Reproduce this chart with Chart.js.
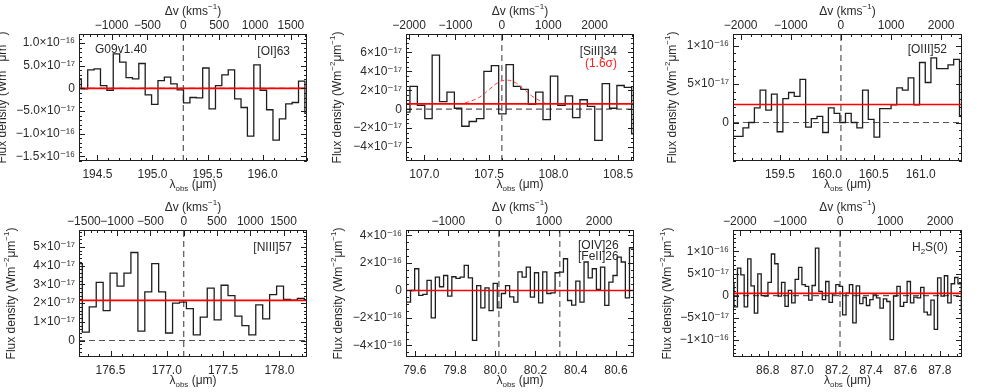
<!DOCTYPE html>
<html>
<head>
<meta charset="utf-8">
<script src="https://cdn.jsdelivr.net/npm/chart.js@4.4.1/dist/chart.umd.min.js"></script>
<style>
  body { margin: 0; background: #fff; }
  #wrap { position: relative; width: 981px; height: 392px; overflow: hidden; }
  #wrap canvas { position: absolute; }
</style>
</head>
<body>
<div id="wrap"></div>
<script>
// flux values are in units of 1e-17 W m^-2 um^-1, wavelengths are bin centres in um

// [OI]63
const oiWave = [194.325, 194.383, 194.441, 194.499, 194.557, 194.615, 194.673, 194.731, 194.789, 194.847,
  194.905, 194.963, 195.021, 195.079, 195.137, 195.195, 195.253, 195.311, 195.369, 195.427,
  195.485, 195.543, 195.601, 195.659, 195.717, 195.775, 195.833, 195.891, 195.949, 196.007,
  196.065, 196.123, 196.181, 196.239, 196.297, 196.355, 196.413];
const oiFlux = [2.1, -0.1, 4.1, 4.3, 0.6, -0.4, 7.6, 5.8, 2.4, 2.1,
  5.5, -1.4, -3.5, 1.7, 2.5, 1.0, -0.3, -3.2, -2.0, -2.1,
  4.5, -4.5, 0.6, 3.0, 4.1, -2.3, -4.2, -10.5, 5.2, -0.4,
  -4.7, -11.4, -6.7, -3.4, -3.1, 1.6, -5.5];
const oiCont = 0;
const oiXTicks = [194.5, 195.0, 195.5, 196.0];
const oiXLabels = ['194.5', '195.0', '195.5', '196.0'];
const oiVTicks = [-1000, -500, 0, 500, 1000, 1500];
const oiYTicks = [10, 5, 0, -5, -10, -15];
const oiYLabels = ['1.0×10⁻¹⁶', '5.0×10⁻¹⁷', '0', '−5.0×10⁻¹⁷', '−1.0×10⁻¹⁶', '−1.5×10⁻¹⁶'];

// [SiII]34
const siiWave = [106.860, 106.917, 106.975, 107.032, 107.089, 107.146, 107.204, 107.261, 107.318, 107.375,
  107.432, 107.490, 107.547, 107.604, 107.661, 107.718, 107.776, 107.833, 107.890, 107.947,
  108.004, 108.062, 108.119, 108.176, 108.233, 108.290, 108.348, 108.405, 108.462, 108.519,
  108.576, 108.634];
const siiFlux = [-0.3, 2.4, 0.4, -1.0, 5.7, 0.8, 1.8, 0.1, -1.8, -1.3,
  -1.0, 4.0, 4.6, -0.5, 4.7, 2.4, 2.1, 0.5, 1.8, -1.1,
  3.5, 0.4, 1.4, -0.9, 1.0, 0.3, -3.3, 2.7, 0.1, 2.5,
  2.3, -2.6];
const siiCont = 0.56;
const siiFitWave = [107.315, 107.379, 107.444, 107.508, 107.573, 107.637, 107.702, 107.766, 107.831, 107.895, 107.934];
const siiFitFlux = [0.67, 0.95, 1.41, 2.15, 2.82, 3.07, 2.82, 2.15, 1.41, 0.88, 0.63];
const siiXTicks = [107.0, 107.5, 108.0, 108.5];
const siiXLabels = ['107.0', '107.5', '108.0', '108.5'];
const siiVTicks = [-2000, -1000, 0, 1000, 2000];
const siiYTicks = [6, 4, 2, 0, -2, -4];
const siiYLabels = ['6×10⁻¹⁷', '4×10⁻¹⁷', '2×10⁻¹⁷', '0', '−2×10⁻¹⁷', '−4×10⁻¹⁷'];

// [OIII]52
const oiiiWave = [158.955, 159.016, 159.076, 159.137, 159.198, 159.258, 159.319, 159.380, 159.440, 159.501,
  159.562, 159.622, 159.683, 159.744, 159.804, 159.865, 159.926, 159.986, 160.047, 160.108,
  160.168, 160.229, 160.290, 160.350, 160.411, 160.472, 160.533, 160.593, 160.654, 160.715,
  160.775, 160.836, 160.897, 160.957, 161.018, 161.079, 161.139, 161.200, 161.261, 161.321,
  161.382, 161.445];
const oiiiFlux = [-1.8, -1.8, -1.8, -0.7, 0.0, 1.9, 4.2, 1.6, 3.7, -1.2,
  3.1, 3.9, 3.4, 5.6, -0.6, 0.5, 0.8, -1.3, 1.9, 1.2,
  0.0, 1.2, 0.0, -0.7, 4.2, 0.4, -1.9, 1.8, 1.8, 2.3,
  4.5, 4.2, 5.8, 2.3, 7.8, 5.2, 8.4, 7.0, 7.0, 7.5,
  8.2, 0.8];
const oiiiCont = 2.34;
const oiiiXTicks = [159.5, 160.0, 160.5, 161.0];
const oiiiXLabels = ['159.5', '160.0', '160.5', '161.0'];
const oiiiVTicks = [-2000, -1000, 0, 1000, 2000];
const oiiiYTicks = [10, 5, 0];
const oiiiYLabels = ['1×10⁻¹⁶', '5×10⁻¹⁷', '0'];

// [NIII]57
const niiiWave = [176.219, 176.280, 176.342, 176.404, 176.465, 176.527, 176.589, 176.650, 176.712, 176.774,
  176.835, 176.897, 176.958, 177.020, 177.082, 177.143, 177.205, 177.266, 177.328, 177.390,
  177.451, 177.513, 177.574, 177.636, 177.698, 177.759, 177.821, 177.882, 177.944, 178.006,
  178.067, 178.129, 178.190, 178.252];
const niiiFlux = [4.1, 0.45, 1.8, 3.1, 1.6, 3.6, 2.9, 3.6, 4.7, 0.5,
  2.6, 4.1, 2.6, 0.4, 2.0, 2.05, 1.7, 0.3, 1.25, 2.8,
  1.1, 2.95, 2.4, 1.3, 0.8, 0.3, 1.9, 1.15, 2.45, 2.9,
  2.2, 2.15, 2.25, 2.15];
const niiiCont = 2.14;
const niiiXTicks = [176.5, 177.0, 177.5, 178.0];
const niiiXLabels = ['176.5', '177.0', '177.5', '178.0'];
const niiiVTicks = [-1500, -1000, -500, 0, 500, 1000, 1500];
const niiiYTicks = [5, 4, 3, 2, 1, 0];
const niiiYLabels = ['5×10⁻¹⁷', '4×10⁻¹⁷', '3×10⁻¹⁷', '2×10⁻¹⁷', '1×10⁻¹⁷', '0'];

// [OIV]26 / [FeII]26
const oivWave = [79.548, 79.568, 79.589, 79.609, 79.630, 79.650, 79.671, 79.692, 79.712, 79.733,
  79.753, 79.774, 79.794, 79.815, 79.835, 79.856, 79.876, 79.897, 79.918, 79.938,
  79.959, 79.979, 80.000, 80.020, 80.041, 80.061, 80.082, 80.102, 80.123, 80.144,
  80.164, 80.185, 80.205, 80.226, 80.246, 80.267, 80.287, 80.308, 80.329, 80.349,
  80.370, 80.390, 80.411, 80.431, 80.452, 80.472, 80.493, 80.513, 80.534, 80.555,
  80.575, 80.596, 80.616, 80.637, 80.657, 80.678, 80.699];
const oivFlux = [10.5, -8.5, 0.0, 15.8, -3.6, -2.9, 7.3, -20.0, 9.7, 2.7,
  10.9, -4.1, 10.0, 8.8, 9.7, 18.2, 9.2, -36.3, 3.6, -12.7,
  1.9, -14.6, 5.1, -12.7, -2.2, 3.6, -4.6, -8.5, 13.6, 9.7,
  17.0, -4.9, 12.9, -9.0, 13.6, -2.2, -1.7, 12.9, 13.4, 23.1,
  -7.3, -10.7, 6.8, -8.5, 20.7, 9.2, 15.8, 0.7, 17.0, -10.9,
  6.1, 10.9, 24.3, 20.7, -5.4, 31.1, 12.9];
const oivCont = 0;
const oivXTicks = [79.6, 79.8, 80.0, 80.2, 80.4, 80.6];
const oivXLabels = ['79.6', '79.8', '80.0', '80.2', '80.4', '80.6'];
const oivVTicks = [-1000, 0, 1000, 2000];
const oivYTicks = [40, 20, 0, -20, -40];
const oivYLabels = ['4×10⁻¹⁶', '2×10⁻¹⁶', '0', '−2×10⁻¹⁶', '−4×10⁻¹⁶'];

// H2S(0)
const h2sWave = [86.594, 86.614, 86.634, 86.653, 86.673, 86.693, 86.712, 86.732, 86.752, 86.772,
  86.791, 86.811, 86.831, 86.850, 86.870, 86.890, 86.910, 86.929, 86.949, 86.969,
  86.989, 87.008, 87.028, 87.048, 87.067, 87.087, 87.107, 87.127, 87.146, 87.166,
  87.186, 87.205, 87.225, 87.245, 87.265, 87.284, 87.304, 87.324, 87.344, 87.363,
  87.383, 87.403, 87.422, 87.442, 87.462, 87.482, 87.501, 87.521, 87.541, 87.560,
  87.580, 87.600, 87.620, 87.639, 87.659, 87.679, 87.698, 87.718, 87.738, 87.758,
  87.777, 87.797, 87.817, 87.836, 87.856, 87.876, 87.896, 87.915, 87.935];
const h2sFlux = [2.7, -2.5, 6.2, 4.7, -2.5, 8.3, 2.2, -3.9, 4.9, 0.0,
  -0.1, 3.0, 9.4, 7.2, -0.1, 3.0, -2.4, 1.2, -1.6, 3.7,
  6.4, 2.5, 2.1, -1.0, 2.3, 10.7, 1.0, -0.9, 3.2, -1.5,
  0.4, 2.5, 2.1, -4.3, 0.6, 2.5, -6.1, 2.2, -1.8, -0.4,
  -2.2, -0.9, 0.2, -0.5, -2.8, -0.7, -1.3, -9.9, -0.1, 2.1,
  -2.4, -1.5, 3.2, -1.6, -0.3, -0.5, 1.9, -3.7, -4.3, -1.0,
  -7.6, 4.0, -0.1, 4.5, -1.6, 2.7, 4.1, 2.7, -3.9];
const h2sCont = 0.52;
const h2sXTicks = [86.8, 87.0, 87.2, 87.4, 87.6, 87.8];
const h2sXLabels = ['86.8', '87.0', '87.2', '87.4', '87.6', '87.8'];
const h2sVTicks = [-2000, -1000, 0, 1000, 2000];
const h2sYTicks = [10, 5, 0, -5, -10];
const h2sYLabels = ['1×10⁻¹⁶', '5×10⁻¹⁷', '0', '−5×10⁻¹⁷', '−1×10⁻¹⁶'];

const FONT = '"Liberation Sans", Arial, "DejaVu Sans", sans-serif';
const INK = '#1e1e1e';
const TEXT = '#2a2a2a';
const DASH = '#555555';

const panels = [
  { col: 0, row: 0, wave: oiWave, flux: oiFlux, cont: oiCont,
    xMin: 194.333, xMax: 196.403, yMin: -16, yMax: 12, vMin: -1454, vMax: 1724, lines: [195.28],
    xTicks: oiXTicks, xLabels: oiXLabels, vTicks: oiVTicks, yTicks: oiYTicks, yLabels: oiYLabels,
    xMinor: 0.1, vMinor: 100, yMinor: 1, yTitleX: 3,
    notes: [{ parts: [['G09v1.40', '']], x: 95, y: 50, align: 'left' },
            { parts: [['[OI]63', '']], x: 290, y: 52, align: 'right' }] },
  { col: 1, row: 0, wave: siiWave, flux: siiFlux, cont: siiCont, fitWave: siiFitWave, fitFlux: siiFitFlux,
    xMin: 106.858, xMax: 108.623, yMin: -5.47, yMax: 7.94, vMin: -2067, vMax: 2850, lines: [107.60],
    xTicks: siiXTicks, xLabels: siiXLabels, vTicks: siiVTicks, yTicks: siiYTicks, yLabels: siiYLabels,
    xMinor: 0.1, vMinor: 200, yMinor: 0.5, yTitleX: 11,
    notes: [{ parts: [['[SiII]34', '']], x: 290, y: 52, align: 'right' },
            { parts: [['(1.6σ)', '']], x: 290, y: 64, align: 'right', color: '#ff2020' }] },
  { col: 2, row: 0, wave: oiiiWave, flux: oiiiFlux, cont: oiiiCont,
    xMin: 159.0, xMax: 161.44, yMin: -5.0, yMax: 11.5, vMin: -2153, vMax: 2415, lines: [160.15],
    xTicks: oiiiXTicks, xLabels: oiiiXLabels, vTicks: oiiiVTicks, yTicks: oiiiYTicks, yLabels: oiiiYLabels,
    xMinor: 0.1, vMinor: 200, yMinor: 1, yTitleX: 19,
    notes: [{ parts: [['[OIII]52', '']], x: 293, y: 50, align: 'right' }] },
  { col: 0, row: 1, wave: niiiWave, flux: niiiFlux, cont: niiiCont,
    xMin: 176.22, xMax: 178.245, yMin: -0.88, yMax: 5.9, vMin: -1574, vMax: 1853, lines: [177.15],
    xTicks: niiiXTicks, xLabels: niiiXLabels, vTicks: niiiVTicks, yTicks: niiiYTicks, yLabels: niiiYLabels,
    xMinor: 0.1, vMinor: 100, yMinor: 0.2, yTitleX: 12,
    notes: [{ parts: [['[NIII]57', '']], x: 292, y: 52, align: 'right' }] },
  { col: 1, row: 1, wave: oivWave, flux: oivFlux, cont: oivCont,
    xMin: 79.556, xMax: 80.69, yMin: -48.4, yMax: 44, vMin: -1841, vMax: 2693, lines: [80.018, 80.321],
    xTicks: oivXTicks, xLabels: oivXLabels, vTicks: oivVTicks, yTicks: oivYTicks, yLabels: oivYLabels,
    xMinor: 0.05, vMinor: 200, yMinor: 5, yTitleX: 12,
    notes: [{ parts: [['[OIV]26', '']], x: 251, y: 50, align: 'left' },
            { parts: [['[FeII]26', '']], x: 251, y: 61, align: 'left' }] },
  { col: 2, row: 1, wave: h2sWave, flux: h2sFlux, cont: h2sCont,
    xMin: 86.598, xMax: 87.929, yMin: -13.8, yMax: 14.8, vMin: -2138, vMax: 2437, lines: [87.22],
    xTicks: h2sXTicks, xLabels: h2sXLabels, vTicks: h2sVTicks, yTicks: h2sYTicks, yLabels: h2sYLabels,
    xMinor: 0.05, vMinor: 200, yMinor: 1, yTitleX: 14,
    notes: [{ parts: [['H', ''], ['2', 'sub'], ['S(0)', '']], x: 258, y: 52, align: 'left' }] }
];

function fontFor(kind, size) {
  return (kind ? Math.round(size * 0.68) : size) + 'px ' + FONT;
}

function richText(ctx, parts, x, y, align, size, color) {
  const widths = parts.map(([t, k]) => { ctx.font = fontFor(k, size); return ctx.measureText(t).width; });
  const total = widths.reduce((a, b) => a + b, 0);
  let cx = align === 'center' ? x - total / 2 : align === 'right' ? x - total : x;
  ctx.fillStyle = color;
  ctx.textAlign = 'left';
  ctx.textBaseline = 'middle';
  parts.forEach(([t, k], i) => {
    ctx.font = fontFor(k, size);
    const dy = k === 'sup' ? -size * 0.42 : k === 'sub' ? size * 0.3 : 0;
    ctx.fillText(t, cx, y + dy);
    cx += widths[i];
  });
}

function stepValues(min, max, step) {
  const out = [];
  for (let i = Math.ceil(min / step - 1e-9); i * step <= max + 1e-9; i++) out.push(i * step);
  return out;
}

function framePlugin(p) {
  return {
    id: 'idlFrame',
    afterDraw(chart) {
      const ctx = chart.ctx;
      const a = chart.chartArea;
      const sx = chart.scales.x, sv = chart.scales.v, sy = chart.scales.y;
      ctx.save();
      ctx.strokeStyle = INK;
      ctx.lineWidth = 1;
      ctx.strokeRect(a.left + 0.5, a.top + 0.5, a.right - a.left - 1, a.bottom - a.top - 1);

      const mark = (scale, vals, len, side) => {
        vals.forEach(v => {
          if (v < scale.min || v > scale.max) return;
          const px = Math.round(scale.getPixelForValue(v)) + 0.5;
          ctx.beginPath();
          if (side === 'bottom') { ctx.moveTo(px, a.bottom); ctx.lineTo(px, a.bottom - len); }
          if (side === 'top') { ctx.moveTo(px, a.top); ctx.lineTo(px, a.top + len); }
          if (side === 'left') { ctx.moveTo(a.left, px); ctx.lineTo(a.left + len, px); }
          if (side === 'right') { ctx.moveTo(a.right, px); ctx.lineTo(a.right - len, px); }
          ctx.stroke();
        });
      };
      mark(sx, p.xTicks, 6, 'bottom');
      mark(sx, stepValues(p.xMin, p.xMax, p.xMinor), 3, 'bottom');
      mark(sv, p.vTicks, 6, 'top');
      mark(sv, stepValues(p.vMin, p.vMax, p.vMinor), 3, 'top');
      mark(sy, p.yTicks, 6, 'left');
      mark(sy, stepValues(p.yMin, p.yMax, p.yMinor), 3, 'left');
      mark(sy, p.yTicks, 6, 'right');
      mark(sy, stepValues(p.yMin, p.yMax, p.yMinor), 3, 'right');

      const cx = (a.left + a.right) / 2;
      richText(ctx, [['λ', ''], ['obs', 'sub'], [' (μm)', '']], cx, 185, 'center', 12, TEXT);
      richText(ctx, [['Δv (kms', ''], ['−1', 'sup'], [')', '']], cx, 12, 'center', 12, TEXT);
      ctx.save();
      ctx.translate(p.yTitleX, (a.top + a.bottom) / 2);
      ctx.rotate(-Math.PI / 2);
      richText(ctx, [['Flux density (Wm', ''], ['−2', 'sup'], ['μm', ''], ['−1', 'sup'], [')', '']],
        0, 0, 'center', 12, TEXT);
      ctx.restore();

      p.notes.forEach(n => richText(ctx, n.parts, n.x, n.y, n.align, 12, n.color || TEXT));
      ctx.restore();
    }
  };
}

function buildPanel(p) {
  const canvas = document.createElement('canvas');
  canvas.width = 327;
  canvas.height = 196;
  canvas.style.left = (p.col * 327) + 'px';
  canvas.style.top = (p.row * 196) + 'px';
  document.getElementById('wrap').appendChild(canvas);

  const datasets = [
    { data: p.wave.map((x, i) => ({ x, y: p.flux[i] })), stepped: 'middle',
      borderColor: INK, borderWidth: 1.3, order: 3 },
    { data: [{ x: p.xMin, y: p.cont }, { x: p.xMax, y: p.cont }],
      borderColor: '#ff0000', borderWidth: 1.7, order: 1 },
    { data: [{ x: p.xMin, y: 0 }, { x: p.xMax, y: 0 }],
      borderColor: DASH, borderDash: [6, 4], borderWidth: 1.2, order: 4 }
  ];
  p.lines.forEach(l => datasets.push({
    data: [{ x: l, y: p.yMin }, { x: l, y: p.yMax }],
    borderColor: DASH, borderDash: [6, 4], borderWidth: 1.2, order: 4
  }));
  if (p.fitWave) {
    datasets.push({ data: p.fitWave.map((x, i) => ({ x, y: p.fitFlux[i] })),
      borderColor: '#ff3b3b', borderDash: [4, 3], borderWidth: 1, tension: 0.4, order: 2 });
  }
  datasets.forEach(d => { d.xAxisID = 'x'; d.yAxisID = 'y'; d.pointRadius = 0; d.fill = false; });

  const tickFont = { family: FONT, size: 12 };
  const noPad = s => { s.paddingLeft = 0; s.paddingRight = 0; s.paddingTop = 0; s.paddingBottom = 0; };
  const grid = { display: false, drawTicks: false };

  new Chart(canvas, {
    type: 'line',
    data: { datasets },
    options: {
      responsive: false,
      animation: false,
      events: [],
      layout: { autoPadding: false, padding: { left: 0, top: 0, bottom: 0, right: p.col === 2 ? 19 : 20 } },
      plugins: { legend: { display: false }, tooltip: { enabled: false } },
      scales: {
        x: {
          type: 'linear', position: 'bottom', min: p.xMin, max: p.xMax,
          grid, border: { display: false },
          ticks: { font: tickFont, color: TEXT, padding: 6, autoSkip: false, maxRotation: 0,
                   callback: v => p.xLabels[p.xTicks.indexOf(v)] ?? '' },
          afterBuildTicks: s => { s.ticks = p.xTicks.map(v => ({ value: v })); },
          afterFit: s => { s.height = 35; noPad(s); }
        },
        v: {
          type: 'linear', position: 'top', min: p.vMin, max: p.vMax,
          grid, border: { display: false },
          ticks: { font: tickFont, color: TEXT, padding: 1, autoSkip: false, maxRotation: 0,
                   callback: v => (v < 0 ? '−' + Math.abs(v) : String(v)) },
          afterBuildTicks: s => { s.ticks = p.vTicks.map(v => ({ value: v })); },
          afterFit: s => { s.height = 34; noPad(s); }
        },
        y: {
          type: 'linear', position: 'left', min: p.yMin, max: p.yMax,
          grid, border: { display: false },
          ticks: { font: tickFont, color: TEXT, padding: 4, autoSkip: false,
                   callback: v => p.yLabels[p.yTicks.indexOf(v)] ?? '' },
          afterBuildTicks: s => { s.ticks = p.yTicks.map(v => ({ value: v })); },
          afterFit: s => { s.width = 79; noPad(s); }
        }
      }
    },
    plugins: [framePlugin(p)]
  });
}

panels.forEach(buildPanel);
</script>
</body>
</html>
